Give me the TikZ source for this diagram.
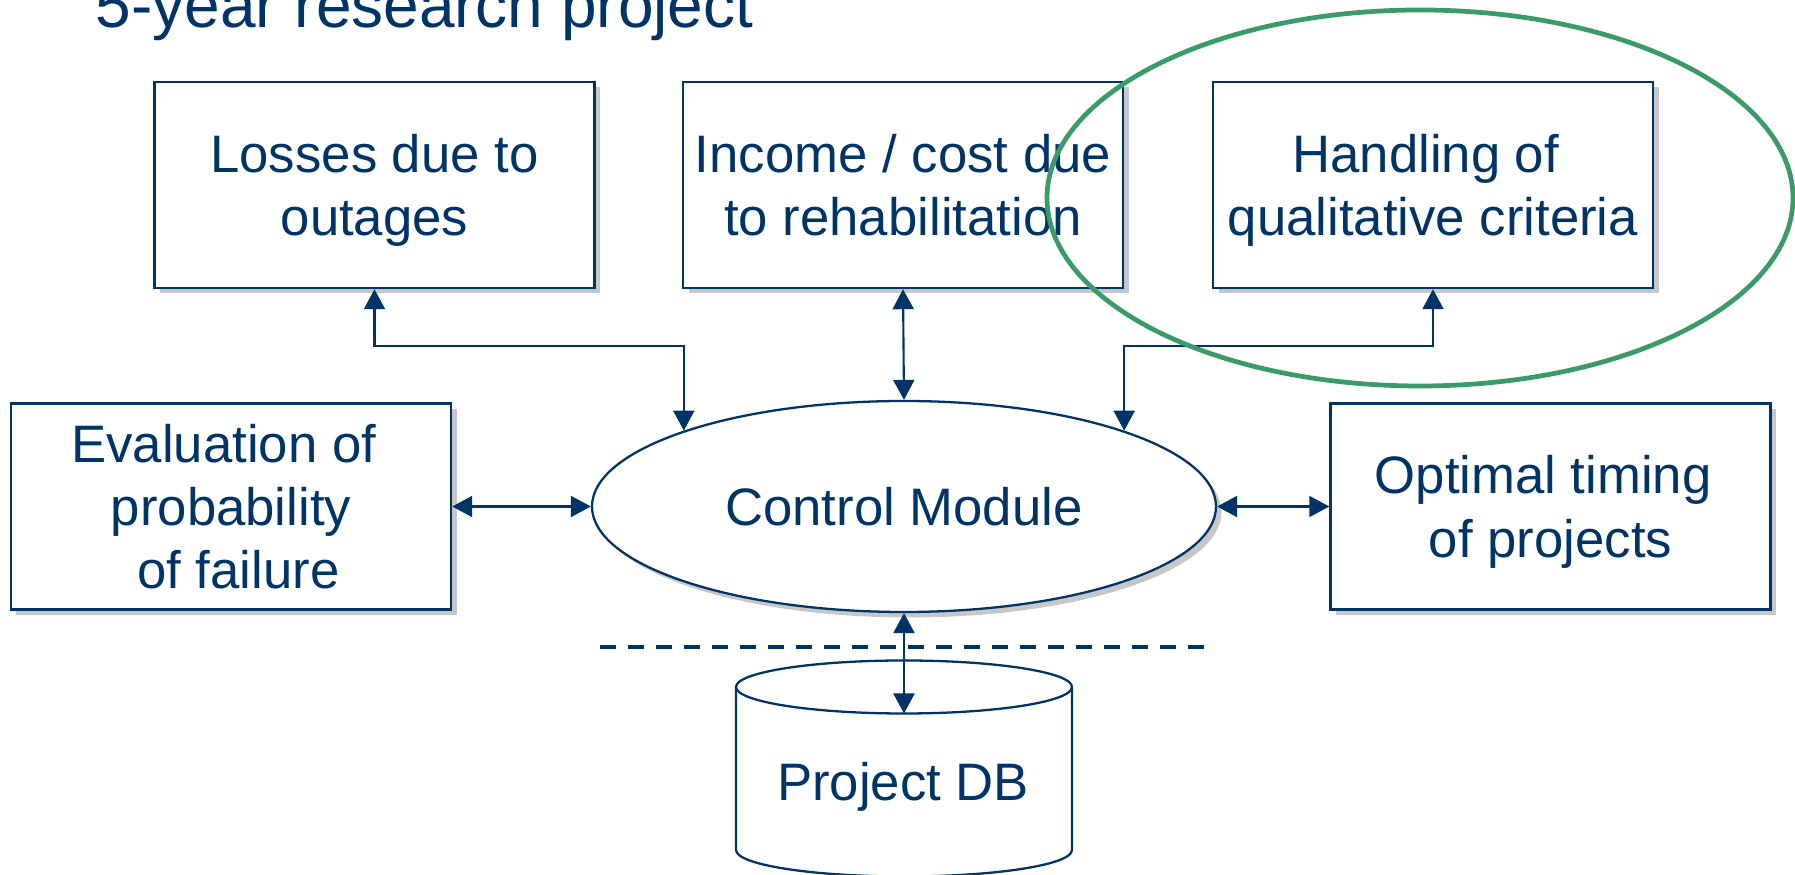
\documentclass[tikz,border=0pt]{standalone}
\usepackage{fontspec}
\setmainfont{Liberation Sans}
\usetikzlibrary{shapes.geometric,shadows,arrows.meta}
\definecolor{azul}{RGB}{0,51,102}
\definecolor{verde}{RGB}{58,155,104}
\tikzset{
	sombra/.style={drop shadow={shadow xshift=0.055cm, shadow yshift=-0.055cm, fill=black!22, opacity=1}},
	caja/.style={draw=azul, line width=0.7pt, fill=white, sombra, minimum width=4.4cm, minimum height=2.06cm,
		inner sep=0pt, align=center, text=azul, text depth=0pt, font=\fontsize{15}{18}\selectfont},
	modulo/.style={ellipse, draw=azul, line width=0.65pt, fill=white, sombra, minimum width=6.24cm, minimum height=2.11cm,
		inner sep=0pt, text=azul, text depth=0pt, font=\fontsize{15}{18}\selectfont},
	enlace/.style={azul, line width=0.6pt, >={Triangle[length=0.2cm,width=0.21cm]}, <->},
	cilindro/.style={azul, line width=0.65pt}
}
\begin{document}
\begin{tikzpicture}
		\useasboundingbox (0,0) rectangle (17.95,8.75);
		
		% Titulo
		\node[anchor=base west, inner sep=0pt, text=azul, font=\fontsize{18.2}{22}\selectfont] (titulo) at (0.95,8.47) {5-year research project};
		
		% Cajas de los modulos
		\node[caja] (perdidas) at (3.745,6.90) {Losses due to\\outages};
		\node[caja] (ingresos) at (9.03,6.90) {Income / cost due\\to rehabilitation};
		\node[caja] (criterios) at (14.33,6.90) {Handling of\ \mbox{}\\qualitative criteria};
		\node[caja] (evaluacion) at (2.31,3.685) {Evaluation of\ \mbox{}\\probability\\\ of failure};
		\node[caja] (tiempos) at (15.505,3.685) {Optimal timing\ \mbox{}\\of projects};
		\node[modulo] (control) at (9.04,3.685) {Control Module};
		
		% Base de datos
		\draw[cilindro, fill=white] (7.36,1.88) -- (7.36,0.25) arc[start angle=180, end angle=360, x radius=1.68, y radius=0.265] -- (10.72,1.88);
		\draw[cilindro] (9.04,1.88) ellipse [x radius=1.68, y radius=0.265];
		\coordinate (dbtop) at (9.04,1.615);
		\node[anchor=base, inner sep=0pt, text=azul, font=\fontsize{15}{18}\selectfont] (db) at (9.03,0.74) {Project DB};
		
		% Linea de separacion
		\draw[azul, line width=1pt, dash pattern=on 0.16cm off 0.12cm] (6.00,2.28) -- (12.04,2.28);
		
		% Conexiones
		\draw[enlace] (perdidas.south) -- ++(0,-0.57) -| (control.161);
		\draw[enlace] (ingresos.south) -- (control.north);
		\draw[enlace] (criterios.south) -- ++(0,-0.57) -| (control.19);
		\draw[enlace] (evaluacion.east) -- (control.west);
		\draw[enlace] (control.east) -- (tiempos.west);
		\draw[enlace] (control.south) -- (dbtop);
		
		% Resaltado
		\draw[verde, line width=1.35pt] (14.20,6.77) ellipse [x radius=3.73, y radius=1.88];
		
	\end{tikzpicture}
\end{document}
